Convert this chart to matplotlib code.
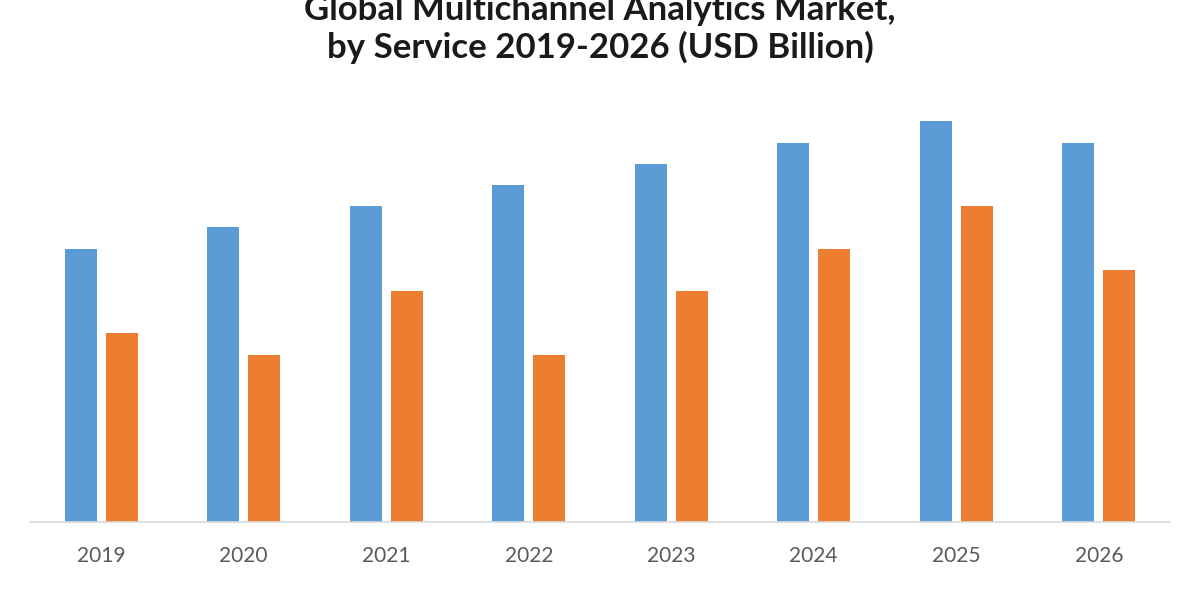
import matplotlib.pyplot as plt
import matplotlib
import numpy as np

matplotlib.rcParams['font.family'] = ['Lato', 'DejaVu Sans']

years = ['2019', '2020', '2021', '2022', '2023', '2024', '2025', '2026']
professional = [12.9, 13.9, 14.9, 15.9, 16.9, 17.9, 18.9, 17.9]
managed = [8.9, 7.9, 10.9, 7.9, 10.9, 12.9, 14.9, 11.9]
series_names = ['Professional Services', 'Managed Services']

fig = plt.figure(figsize=(12, 6), dpi=100)
ax = fig.add_axes([0.025, 0.13, 0.95, 0.703])

x = np.arange(len(years))
w = 0.224
ax.bar(x - 0.143, professional, w, color='#5B9BD5', label=series_names[0])
ax.bar(x + 0.143, managed, w, color='#ED7D31', label=series_names[1])

ax.set_xlim(-0.5, 7.5)
ax.set_ylim(0, 19.9)
ax.set_xticks(x)
ax.set_xticklabels(years, fontsize=15, color='#595959')
ax.tick_params(axis='x', length=0, pad=17)
ax.set_yticks([])
for s in ['left', 'right', 'top']:
    ax.spines[s].set_visible(False)
ax.spines['bottom'].set_color('#d9d9d9')
ax.spines['bottom'].set_linewidth(1.2)

# title: first line is cut off by the top edge, as in the reference
fig.text(0.5, 0.952, 'Global Multichannel Analytics Market,\nby Service 2019-2026 (USD Billion)',
         ha='center', va='center', fontsize=25, fontweight='bold', color='#1a1a1a',
         linespacing=1.2)

fig.legend(loc='upper center', bbox_to_anchor=(0.5, 0.018), ncol=2, frameon=False,
           fontsize=14, labelcolor='#595959')

plt.savefig('out.png', dpi=100)
